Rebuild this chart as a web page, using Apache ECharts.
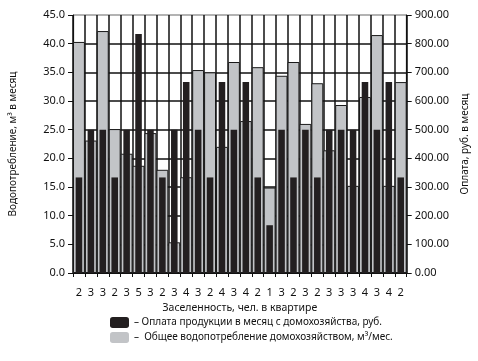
<!DOCTYPE html>
<html><head><meta charset="utf-8">
<script src="https://cdn.jsdelivr.net/npm/echarts@6/dist/echarts.min.js"></script>
<style>html,body{margin:0;padding:0;background:#fff}#c{width:478px;height:361px}</style>
</head><body><div id="c"></div>
<script>
var categories = ['2','3','3','2','3','5','3','2','3','4','3','2','4','3','4','2','1','3','2','3','2','3','3','3','4','3','4','2'];
var waterValues = [40.3,23.1,42.2,25.1,20.8,18.7,24.4,18.0,5.35,16.7,35.4,35.0,22.0,36.8,26.5,35.9,14.9,34.4,36.8,26.0,33.1,21.4,29.3,15.2,30.7,41.5,15.2,33.3];
var paymentValues = [333.33,500,500,333.33,500,833.33,500,333.33,500,666.67,500,333.33,666.67,500,666.67,333.33,166.67,500,333.33,500,333.33,500,500,500,666.67,500,666.67,333.33];
var leftTicks = {min:0, max:45, interval:5};
var rightTicks = {min:0, max:900, interval:100};
var nameWater = '–  Общее водопотребление домохозяйством, м³/мес.';
var namePay = '– Оплата продукции в месяц с домохозяйства, руб.';

var font = 'Noto Sans';
var chart = echarts.init(document.getElementById('c'));
var hColors = [];
for (var i = 0; i < 10; i++) hColors.push(i === 9 ? '#9a9a9a' : '#111');
chart.setOption({
  animation:false,
  textStyle:{fontFamily:font},
  grid:{left:67,right:68,top:15,bottom:88},
  legend:{
    orient:'vertical', left:105, top:312, itemWidth:19, itemHeight:11, itemGap:4,
    textStyle:{fontFamily:font,fontSize:10,color:'#111'},
    data:[{name:namePay},{name:nameWater,itemStyle:{borderWidth:0}}]
  },
  xAxis:[{
    type:'category', data:categories,
    name:'Заселенность, чел. в квартире', nameLocation:'middle', nameGap:29,
    nameTextStyle:{fontFamily:font,fontSize:10.5,color:'#111'},
    axisLine:{lineStyle:{color:'#111',width:1.2}},
    axisTick:{show:true,length:4,lineStyle:{color:'#111'}},
    axisLabel:{margin:14,fontSize:11,color:'#111',fontFamily:font},
    splitLine:{show:true,lineStyle:{color:'#111',width:1.5}}
  },{
    type:'category', data:categories, show:false
  }],
  yAxis:[{
    type:'value', min:leftTicks.min, max:leftTicks.max, interval:leftTicks.interval,
    name:'Водопотребление, м³ в месяц', nameLocation:'middle', nameGap:55,
    nameTextStyle:{fontFamily:font,fontSize:10,color:'#111'},
    axisLine:{show:true,lineStyle:{color:'#111',width:1.2}},
    axisTick:{show:true,length:5,lineStyle:{color:'#111'}},
    axisLabel:{formatter:function(v){return v.toFixed(1);},fontSize:11,color:'#111',margin:8,fontFamily:font},
    splitLine:{show:true,lineStyle:{color:hColors,width:1.5}}
  },{
    type:'value', min:rightTicks.min, max:rightTicks.max, interval:rightTicks.interval,
    name:'Оплата, руб. в месяц', nameLocation:'middle', nameGap:52, nameRotate:90,
    nameTextStyle:{fontFamily:font,fontSize:10,color:'#111'},
    axisLine:{show:true,lineStyle:{color:'#111',width:1.2}},
    axisTick:{show:true,length:5,lineStyle:{color:'#111'}},
    axisLabel:{formatter:function(v){return v.toFixed(2);},fontSize:11,color:'#111',margin:8,fontFamily:font},
    splitLine:{show:false}
  }],
  series:[{
    name:nameWater, type:'bar', xAxisIndex:0, yAxisIndex:0, data:waterValues,
    barWidth:'100%',
    itemStyle:{color:'#c2c4c7',borderColor:'#1a1a1a',borderWidth:1}
  },{
    name:namePay, type:'bar', xAxisIndex:1, yAxisIndex:1, data:paymentValues,
    barWidth:'55%',
    itemStyle:{color:'#231f20'}
  }]
});
</script></body></html>
